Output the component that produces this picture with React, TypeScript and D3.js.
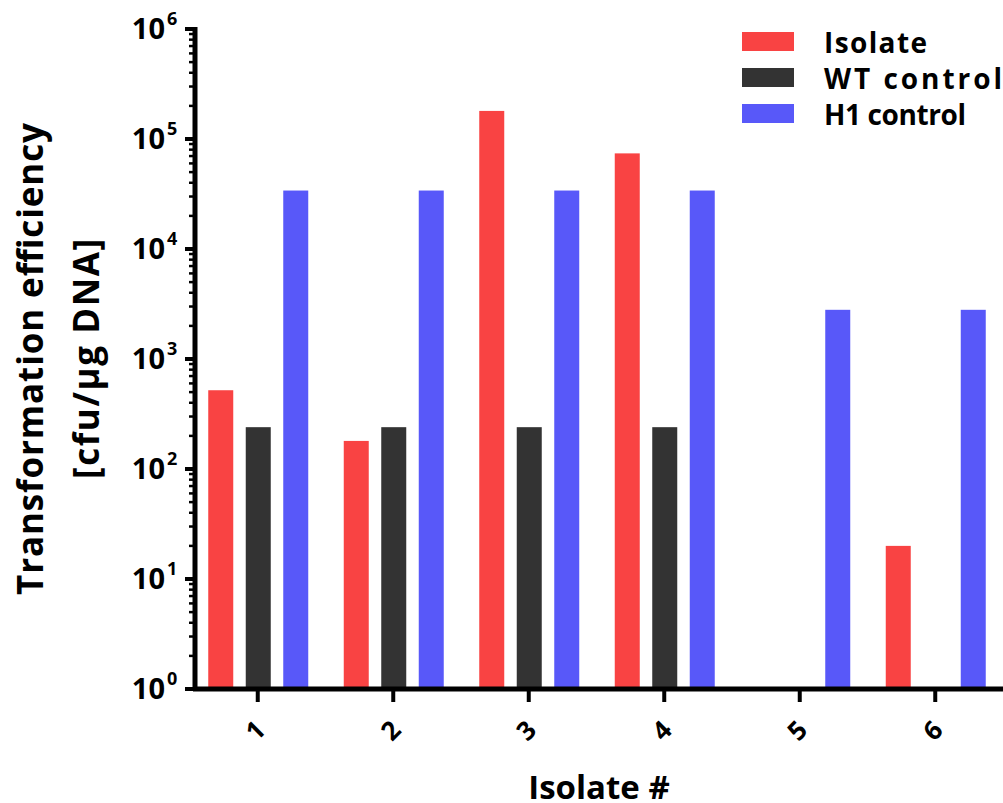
import React from "react";
import * as d3 from "d3";

const categories = ["1", "2", "3", "4", "5", "6"];
const seriesNames = ["Isolate", "WT control", "H1 control"];
const isolate = [520, 180, 180000, 74000, 0, 20];
const wtControl = [240, 240, 240, 240, 0, 0];
const h1Control = [34000, 34000, 34000, 34000, 2800, 2800];
const colors = ["#F94343", "#333333", "#5858F9"];
const yTickExps = [0, 1, 2, 3, 4, 5, 6];
const legendWidths = [103, 178, 142];

const W = 1003;
const H = 803;
const FONT = "'Open Sans', Lato, sans-serif";

export default function App() {
  const series = [isolate, wtControl, h1Control];
  const y = d3.scaleLog().domain([1, 1e6]).range([689, 29]);
  const x = d3.scaleBand().domain(categories).range([190, 1003]).padding(0);
  const x1 = d3.scaleBand().domain(seriesNames).range([-49.5, 50.5]).paddingInner(1 / 3).paddingOuter(0);
  const minor: number[] = [];
  for (let e = 0; e < 6; e++) for (let m = 2; m <= 9; m++) minor.push(m * Math.pow(10, e));
  const axisX = 195;
  const axisY = 689;
  return (
    <svg width={W} height={H} style={{ position: "absolute", left: 0, top: 0, background: "#fff" }}>
      {/* bars */}
      {categories.map((c, i) => (
        <g key={c}>
          {series.map((s, j) =>
            s[i] > 1 ? (
              <rect
                key={j}
                x={(x(c) as number) + x.bandwidth() / 2 + (x1(seriesNames[j]) as number)}
                width={x1.bandwidth()}
                y={y(s[i])}
                height={axisY - y(s[i])}
                fill={colors[j]}
              />
            ) : null
          )}
        </g>
      ))}
      {/* y axis */}
      <line x1={axisX} x2={axisX} y1={y(1e6) - 2} y2={axisY + 2} stroke="#000" strokeWidth={5} />
      {minor.map((v, i) => (
        <line key={i} x1={axisX - 6} x2={axisX} y1={y(v)} y2={y(v)} stroke="#000" strokeWidth={2.5} />
      ))}
      {yTickExps.map((e) => (
        <g key={e}>
          <line x1={axisX - 10} x2={axisX} y1={y(Math.pow(10, e))} y2={y(Math.pow(10, e))} stroke="#000" strokeWidth={4} />
          <text
            x={165}
            y={y(Math.pow(10, e)) + 10}
            textAnchor="end"
            fontFamily={FONT}
            fontWeight="bold"
            fontSize={29}
            fill="#000"
          >
            10
          </text>
          <text x={167} y={y(Math.pow(10, e)) - 4} fontFamily={FONT} fontWeight="bold" fontSize={18} fill="#000">
            {e}
          </text>
        </g>
      ))}
      {/* x axis */}
      <line x1={axisX - 2} x2={1003} y1={axisY} y2={axisY} stroke="#000" strokeWidth={5} />
      {categories.map((c) => {
        const cx = (x(c) as number) + x.bandwidth() / 2;
        return (
          <g key={c}>
            <line x1={cx} x2={cx} y1={axisY} y2={axisY + 13} stroke="#000" strokeWidth={4} />
            <text
              transform={`translate(${cx + 4},${axisY + 48}) rotate(-45)`}
              textAnchor="middle"
              fontFamily={FONT}
              fontWeight="bold"
              fontSize={26}
              fill="#000"
            >
              {c}
            </text>
          </g>
        );
      })}
      {/* axis titles */}
      <text x={599} y={799} textAnchor="middle" fontFamily={FONT} fontWeight="bold" fontSize={33} fill="#000">
        Isolate #
      </text>
      <g transform="translate(0,359) rotate(-90)">
        <text
          x={0}
          y={43}
          textAnchor="middle"
          fontFamily={FONT}
          fontWeight="bold"
          fontSize={35}
          textLength={472}
          lengthAdjust="spacing"
          fill="#000"
        >
          Transformation efficiency
        </text>
        <text
          x={0}
          y={99}
          textAnchor="middle"
          fontFamily={FONT}
          fontWeight="bold"
          fontSize={35}
          textLength={240}
          lengthAdjust="spacing"
          fill="#000"
        >
          [cfu/μg DNA]
        </text>
      </g>
      {/* legend */}
      {seriesNames.map((n, j) => (
        <g key={n} transform={`translate(742,${32 + j * 36})`}>
          <rect x={0} y={0} width={52} height={19} fill={colors[j]} />
          <text
            x={82}
            y={21}
            fontFamily={FONT}
            fontWeight="bold"
            fontSize={28}
            textLength={legendWidths[j]}
            lengthAdjust="spacing"
            fill="#000"
          >
            {n}
          </text>
        </g>
      ))}
    </svg>
  );
}
